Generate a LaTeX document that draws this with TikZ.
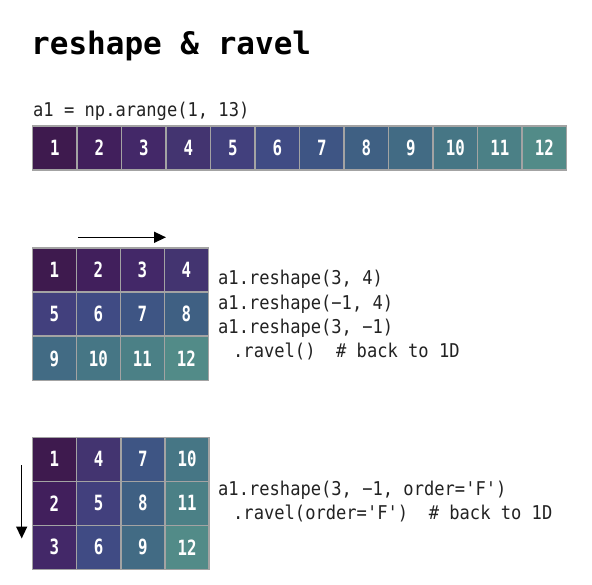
\documentclass[tikz,border=0pt]{standalone}
\usepackage{fontspec}
\usetikzlibrary{arrows.meta}

% fonts: bold mono for the title, condensed mono for code and cell numbers
\newfontfamily\titlefont[Ligatures=TeXOff]{DejaVu Sans Mono}
\newfontfamily\codefont[Ligatures=TeXOff,FakeStretch=0.9]{DejaVu Sans Mono}
\newfontfamily\numfont[Ligatures=TeXOff,FakeStretch=0.75]{DejaVu Sans Mono}

% viridis-like ramp, one colour per value
\definecolor{v1}{HTML}{3E1A4E}
\definecolor{v2}{HTML}{411F5C}
\definecolor{v3}{HTML}{432868}
\definecolor{v4}{HTML}{433470}
\definecolor{v5}{HTML}{42407D}
\definecolor{v6}{HTML}{404B84}
\definecolor{v7}{HTML}{3E5584}
\definecolor{v8}{HTML}{3F6083}
\definecolor{v9}{HTML}{426B84}
\definecolor{v10}{HTML}{467685}
\definecolor{v11}{HTML}{4B8086}
\definecolor{v12}{HTML}{528B88}
\definecolor{cellgray}{HTML}{A3A3A3}
\definecolor{codegray}{HTML}{222222}

\tikzset{
  cell/.style={draw=cellgray, line width=1.4pt, minimum width=44pt,
    minimum height=44pt, inner sep=0pt, text=white,
    font=\numfont\bfseries\fontsize{21}{21}\selectfont},
  code/.style={anchor=base west, inner sep=0pt, text=codegray,
    font=\codefont\fontsize{19}{24}\selectfont},
  flow/.style={line width=1.5pt, -{Triangle[length=12pt,width=11pt]}}
}

\begin{document}
\begin{tikzpicture}[x=1pt,y=-1pt]
\useasboundingbox (0,0) rectangle (592,585);

% heading
\node[anchor=base west, inner sep=0pt,
  font=\titlefont\bfseries\fontsize{31}{31}\selectfont] (title) at (31,55) {reshape \& ravel};

% 1-D array
\node[code] (c0) at (33,117) {a1 = np.arange(1, 13)};
\foreach \i in {1,...,12}
  \node[cell, minimum width=44.5pt, fill=v\i] (r\i) at ({32.5+44.5*(\i-0.5)},148) {\i};

% row-major 3x4
\coordinate (hs) at (78,237.3);
\coordinate (he) at (166,237.3);
\draw[flow] (hs) -- (he);
\foreach \r in {0,1,2}
  \foreach \c in {0,1,2,3} {
    \pgfmathtruncatemacro\v{4*\r+\c+1}
    \node[cell, fill=v\v] (a\v) at ({32.3+44*(\c+0.5)},{247.7+44.33*(\r+0.5)}) {\v};
  }
\node[code] (c1) at (218,285) {a1.reshape(3, 4)};
\node[code] (c2) at (218,309.3) {a1.reshape(−1, 4)};
\node[code] (c3) at (218,333.6) {a1.reshape(3, −1)};
\node[code] (c4) at (233,358) {.ravel()~~\# back to 1D};

% column-major 3x4
\coordinate (vs) at (21.7,465);
\coordinate (ve) at (21.7,538.5);
\draw[flow] (vs) -- (ve);
\foreach \r in {0,1,2}
  \foreach \c in {0,1,2,3} {
    \pgfmathtruncatemacro\v{3*\c+\r+1}
    \node[cell, fill=v\v] (b\v) at ({32.3+44.2*(\c+0.5)},{437.3+44*(\r+0.5)}) {\v};
  }
\node[code] (c5) at (218,495) {a1.reshape(3, −1, order='F')};
\node[code] (c6) at (233,519) {.ravel(order='F')~~\# back to 1D};

\end{tikzpicture}
\end{document}
